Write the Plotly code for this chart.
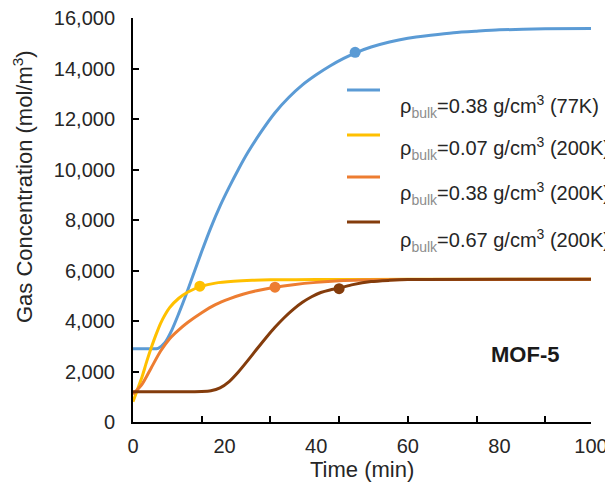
import plotly.graph_objects as go

# ---- data ----
t_blue = [0, 4, 5.5, 7, 8.5, 10, 11.5, 13, 15, 17, 19, 21, 23, 25, 28, 31, 34, 37, 40, 43, 46, 49, 52, 56, 60, 65, 70, 75, 80, 90, 100]
c_blue = [2900, 2900, 2920, 3150, 3650, 4300, 5000, 5750, 6750, 7700, 8550, 9300, 10000, 10650, 11500, 12250, 12850, 13350,
          13750, 14100, 14400, 14650, 14850, 15050, 15200, 15320, 15420, 15480, 15530, 15570, 15580]

t_yel = [0, 1, 2, 3, 4, 5, 6, 7, 8, 10, 12, 15, 18, 22, 26, 30, 40, 60, 100]
c_yel = [800, 1300, 1800, 2400, 2950, 3450, 3900, 4250, 4530, 4900, 5150, 5380, 5500, 5570, 5610, 5630, 5640, 5650, 5650]

t_org = [0, 2, 4, 6, 8, 10, 12, 15, 18, 21, 24, 27, 31, 35, 40, 45, 50, 60, 100]
c_org = [1100, 1500, 2150, 2800, 3300, 3650, 3950, 4330, 4650, 4880, 5060, 5200, 5340, 5440, 5530, 5590, 5620, 5640, 5650]

t_brn = [0, 10, 15, 17, 19, 21, 23, 25, 27, 29, 31, 33, 35, 37, 39, 41, 43, 45, 48, 52, 56, 60, 100]
c_brn = [1200, 1200, 1210, 1240, 1350, 1600, 1980, 2420, 2880, 3330, 3750, 4130, 4460, 4740, 4960, 5130, 5230,
         5300, 5440, 5560, 5610, 5640, 5650]

# highlighted points
mk_t = [48.5, 14.6, 31, 45]
mk_c = [14640, 5380, 5340, 5280]

names = ["0.38 g/cm<sup>3</sup> (77K)", "0.07 g/cm<sup>3</sup> (200K)",
         "0.38 g/cm<sup>3</sup> (200K)", "0.67 g/cm<sup>3</sup> (200K)"]
colors = ["#5B9BD5", "#FFC000", "#ED7D31", "#843C0C"]

x_ticks = [0, 20, 40, 60, 80, 100]
x_minor = [15, 30, 45, 60, 75, 90]
y_ticks = [0, 2000, 4000, 6000, 8000, 10000, 12000, 14000, 16000]

series = [(t_blue, c_blue), (t_yel, c_yel), (t_org, c_org), (t_brn, c_brn)]

fig = go.Figure()
for i, (tt, cc) in enumerate(series):
    fig.add_trace(go.Scatter(x=tt, y=cc, mode="lines",
                             line=dict(color=colors[i], width=3, shape="spline", smoothing=0.7),
                             showlegend=False, hoverinfo="skip"))
# markers drawn on the overlaid tick-only axis (same 0-100 range)
for i in range(4):
    fig.add_trace(go.Scatter(x=[mk_t[i]], y=[mk_c[i]], mode="markers", xaxis="x2",
                             marker=dict(color=colors[i], size=11),
                             showlegend=False, hoverinfo="skip"))

font_main = "Liberation Sans, Arial, sans-serif"
tc = "#262626"

# page body has an 8px margin: figure is 605x477 placed at (8,8)
OFF = 8.0
L = 133.0 - OFF; W = 458.0; B = 422.0 - OFF; H = 404.0
def px(x): return (x - OFF - L) / W
def py(y): return (B - (y - OFF)) / H

line_y = [90, 135, 177, 222]
text_y = [107, 149, 193, 240]
for i in range(4):
    fig.add_shape(type="line", xref="paper", yref="paper",
                  x0=px(347), x1=px(380), y0=py(line_y[i]), y1=py(line_y[i]),
                  line=dict(color=colors[i], width=3))
    fig.add_annotation(xref="paper", yref="paper", x=px(398), y=py(text_y[i]),
                       xanchor="left", yanchor="middle", showarrow=False,
                       text="ρ<sub><span style='color:#8c8c8c'>bulk</span></sub>=" + names[i],
                       font=dict(family=font_main, size=20, color=tc))

fig.add_annotation(xref="paper", yref="paper", x=px(525), y=py(354), showarrow=False,
                   xanchor="center", yanchor="middle",
                   text="<b>MOF-5</b>", font=dict(family=font_main, size=22, color="#1a1a1a"))
fig.add_annotation(xref="paper", yref="paper", x=0.5, y=py(469), showarrow=False,
                   xanchor="center", yanchor="middle",
                   text="Time (min)", font=dict(family=font_main, size=22, color=tc))
fig.add_annotation(xref="paper", yref="paper", x=px(23), y=py(187), showarrow=False,
                   xanchor="center", yanchor="middle",
                   textangle=-90, text="Gas Concentration (mol/m<sup>3</sup>)",
                   font=dict(family=font_main, size=22, color=tc))

fig.update_layout(
    width=605, height=477,
    margin=dict(l=125, r=22, t=10, b=63, autoexpand=False),
    paper_bgcolor="white", plot_bgcolor="white",
    font=dict(family=font_main, size=20, color=tc),
    xaxis=dict(range=[0, 100], tickmode="array", tickvals=x_ticks, ticks="",
               showline=True, linecolor="black", linewidth=2, showgrid=False, zeroline=False,
               ticklabelstandoff=5, automargin=False, ticklabeloverflow="allow"),
    xaxis2=dict(range=[0, 100], overlaying="x", side="bottom", anchor="y",
                tickmode="array", tickvals=x_minor, ticks="inside", ticklen=6,
                tickcolor="black", tickwidth=2, showticklabels=False,
                showline=False, showgrid=False, zeroline=False, automargin=False),
    yaxis=dict(range=[0, 16000], tickmode="array", tickvals=y_ticks, tickformat=",",
               ticks="inside", ticklen=6, tickcolor="black", tickwidth=2,
               showline=True, linecolor="black", linewidth=2, showgrid=False, zeroline=False,
               ticklabelstandoff=12, automargin=False, ticklabeloverflow="allow"),
)

fig.write_html("out.html")
